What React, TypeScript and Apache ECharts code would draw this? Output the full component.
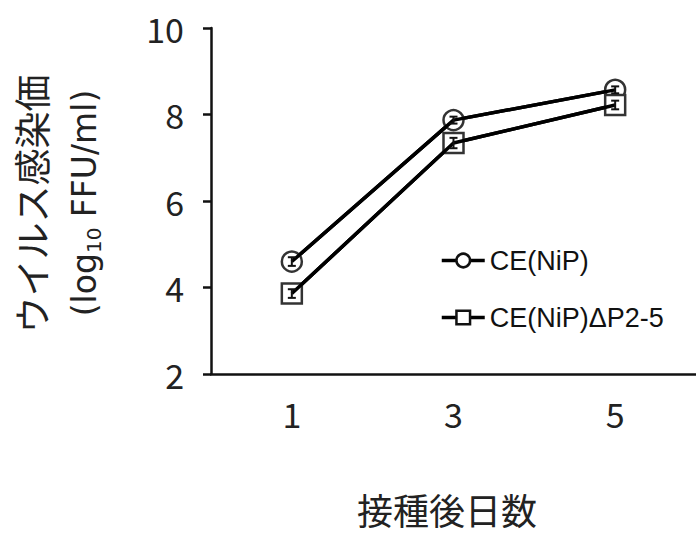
import React, { useEffect, useRef } from "react";
import * as echarts from "echarts";

const days = ["1", "3", "5"];
const seriesNames = ["CE(NiP)", "CE(NiP)ΔP2-5"];
const valuesNiP = [4.6, 7.87, 8.57];
const valuesDelta = [3.86, 7.34, 8.22];
const errNiP = [0.1, 0.08, 0.08];
const errDelta = [0.1, 0.12, 0.1];
const yTicks = { min: 2, max: 10, interval: 2 };
const xTitle = "接種後日数";
const yTitle = "ウイルス感染価";

const FONT = "'Noto Sans CJK JP', 'Noto Sans', sans-serif";
const LATIN = "'DejaVu Sans', sans-serif";
const LEGEND_FONT = "'Liberation Sans', Arial, sans-serif";

function errorSeries(values: number[], errs: number[]) {
  return {
    type: "custom",
    z: 6,
    silent: true,
    data: values.map((v, i) => [i, v - errs[i], v + errs[i]]),
    renderItem: (params: any, api: any) => {
      const x = api.value(0);
      const lo = api.coord([x, api.value(1)]);
      const hi = api.coord([x, api.value(2)]);
      const w = 4;
      const style = { stroke: "#111", lineWidth: 2 };
      return {
        type: "group",
        children: [
          { type: "line", shape: { x1: lo[0], y1: lo[1], x2: hi[0], y2: hi[1] }, style },
          { type: "line", shape: { x1: lo[0] - w, y1: lo[1], x2: lo[0] + w, y2: lo[1] }, style },
          { type: "line", shape: { x1: hi[0] - w, y1: hi[1], x2: hi[0] + w, y2: hi[1] }, style },
        ],
      };
    },
  };
}

function lineOnly(values: number[]) {
  return {
    type: "line",
    data: values,
    showSymbol: false,
    symbol: "none",
    silent: true,
    lineStyle: { color: "#000", width: 3.5 },
    z: 5,
  };
}

export default function App() {
  const ref = useRef<HTMLDivElement>(null);
  useEffect(() => {
    if (!ref.current) return;
    const chart = echarts.init(ref.current, undefined, { renderer: "svg" });
    chart.setOption({
      animation: false,
      backgroundColor: "#ffffff",
      textStyle: { fontFamily: FONT },
      grid: { left: 211, right: -1, top: 28, bottom: 162, containLabel: false },
      legend: {
        orient: "vertical",
        left: 440,
        top: 247,
        padding: 0,
        itemWidth: 43,
        itemHeight: 17,
        itemGap: 30,
        data: seriesNames,
        lineStyle: { color: "#000", width: 3.5 },
        itemStyle: { color: "#fff", borderColor: "#111", borderWidth: 2.5 },
        textStyle: { fontSize: 27, color: "#111", fontFamily: LEGEND_FONT },
      },
      xAxis: {
        type: "category",
        data: days,
        boundaryGap: true,
        axisLine: { lineStyle: { color: "#111", width: 2.5 } },
        axisTick: { inside: true, length: 8, lineStyle: { color: "#111", width: 2.5 } },
        axisLabel: { fontSize: 34, color: "#222", margin: 22, fontFamily: FONT },
        splitLine: { show: false },
      },
      yAxis: {
        type: "value",
        min: yTicks.min,
        max: yTicks.max,
        interval: yTicks.interval,
        axisLine: { show: true, lineStyle: { color: "#111", width: 2.5 } },
        axisTick: { show: true, inside: false, length: 8, lineStyle: { color: "#111", width: 2.5 } },
        axisLabel: { fontSize: 34, color: "#222", margin: 27, fontFamily: FONT },
        splitLine: { show: false },
      },
      graphic: [
        {
          type: "text",
          x: 31,
          y: 204,
          rotation: Math.PI / 2,
          style: {
            text: yTitle,
            fontSize: 37,
            fill: "#222",
            fontFamily: FONT,
            align: "center",
            verticalAlign: "middle",
          },
        },
        {
          type: "text",
          x: 84,
          y: 203,
          rotation: Math.PI / 2,
          style: {
            text: "{b|(log}{s|10}{b| FFU/ml)}",
            align: "center",
            verticalAlign: "middle",
            fill: "#222",
            rich: {
              b: { fontSize: 33, fontFamily: LATIN, fill: "#222", lineHeight: 40, verticalAlign: "middle" },
              s: { fontSize: 20, fontFamily: LATIN, fill: "#222", lineHeight: 40, verticalAlign: "bottom", padding: [12, 0, 0, 0] },
            },
          },
        },
        {
          type: "text",
          x: 447,
          y: 509,
          style: {
            text: xTitle,
            fontSize: 36,
            lineHeight: 36,
            fill: "#222",
            fontFamily: FONT,
            align: "center",
            verticalAlign: "middle",
          },
        },
      ],
      series: [
        {
          name: seriesNames[0],
          type: "line",
          data: valuesNiP,
          symbol: "circle",
          symbolSize: 20,
          showAllSymbol: true,
          lineStyle: { color: "#000", width: 3.5 },
          itemStyle: { color: "#fff", borderColor: "#333", borderWidth: 2.5 },
          z: 2,
        },
        {
          name: seriesNames[1],
          type: "line",
          data: valuesDelta,
          symbol: "rect",
          symbolSize: 20,
          showAllSymbol: true,
          lineStyle: { color: "#000", width: 3.5 },
          itemStyle: { color: "#fff", borderColor: "#333", borderWidth: 2.5 },
          z: 3,
        },
        lineOnly(valuesNiP),
        lineOnly(valuesDelta),
        errorSeries(valuesNiP, errNiP),
        errorSeries(valuesDelta, errDelta),
      ],
    });
    return () => chart.dispose();
  }, []);
  return <div ref={ref} style={{ width: 696, height: 536, position: "absolute", left: 0, top: 0 }} />;
}
